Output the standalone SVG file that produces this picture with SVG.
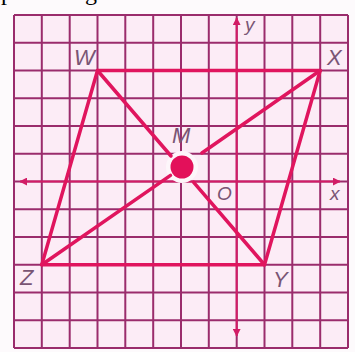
<svg xmlns="http://www.w3.org/2000/svg" width="355" height="352" viewBox="0 0 355 352">
<defs>
<style>
.grid line{stroke:#9a2c6c;stroke-width:2}
.axis{stroke:#d21c66;stroke-width:2}
.edge{stroke:#e0155e;stroke-width:3.5;stroke-linecap:round}
.lbl{font-family:"Liberation Sans",Arial,sans-serif;font-style:italic;font-size:22px;fill:#7a5574}
.sm{font-size:19px}
</style>
<marker id="ah" viewBox="0 0 10 10" refX="9" refY="5" markerWidth="4" markerHeight="4" orient="auto" markerUnits="strokeWidth">
<path d="M0,0 L10,5 L0,10 z" fill="#d21c66"/>
</marker>
</defs>
<rect x="0" y="0" width="355" height="352" fill="#fdfafc"/>
<rect x="14" y="15" width="334" height="333" fill="#fcecf6"/>
<text x="1" y="0" font-family="Liberation Serif,'Times New Roman',serif" font-size="24" fill="#000">parallelogram</text>
<g id="grid" class="grid">
<line x1="14" y1="15" x2="14" y2="348"/>
<line x1="41.8" y1="15" x2="41.8" y2="348"/>
<line x1="69.7" y1="15" x2="69.7" y2="348"/>
<line x1="97.5" y1="15" x2="97.5" y2="348"/>
<line x1="125.3" y1="15" x2="125.3" y2="348"/>
<line x1="153.2" y1="15" x2="153.2" y2="348"/>
<line x1="181" y1="15" x2="181" y2="348"/>
<line x1="208.8" y1="15" x2="208.8" y2="348"/>
<line x1="236.7" y1="15" x2="236.7" y2="348"/>
<line x1="264.5" y1="15" x2="264.5" y2="348"/>
<line x1="292.3" y1="15" x2="292.3" y2="348"/>
<line x1="320.2" y1="15" x2="320.2" y2="348"/>
<line x1="348" y1="15" x2="348" y2="348"/>
<line x1="14" y1="15" x2="348" y2="15"/>
<line x1="14" y1="42.75" x2="348" y2="42.75"/>
<line x1="14" y1="70.5" x2="348" y2="70.5"/>
<line x1="14" y1="98.25" x2="348" y2="98.25"/>
<line x1="14" y1="126" x2="348" y2="126"/>
<line x1="14" y1="153.75" x2="348" y2="153.75"/>
<line x1="14" y1="181.5" x2="348" y2="181.5"/>
<line x1="14" y1="209.25" x2="348" y2="209.25"/>
<line x1="14" y1="237" x2="348" y2="237"/>
<line x1="14" y1="264.75" x2="348" y2="264.75"/>
<line x1="14" y1="292.5" x2="348" y2="292.5"/>
<line x1="14" y1="320.25" x2="348" y2="320.25"/>
<line x1="14" y1="348" x2="348" y2="348"/>
</g>
<g id="axes">
<line class="axis" x1="181" y1="181.5" x2="20" y2="181.5" marker-end="url(#ah)"/>
<line class="axis" x1="181" y1="181.5" x2="340" y2="181.5" marker-end="url(#ah)"/>
<line class="axis" x1="236.7" y1="181.5" x2="236.7" y2="18" marker-end="url(#ah)"/>
<line class="axis" x1="236.7" y1="181.5" x2="236.7" y2="336" marker-end="url(#ah)"/>
</g>
<circle cx="182" cy="167" r="16" fill="#fdf6fa"/>
<g id="connectors">
<line class="edge" x1="97.5" y1="70.5" x2="320.2" y2="70.5"/>
<line class="edge" x1="320.2" y1="70.5" x2="264.5" y2="264.75"/>
<line class="edge" x1="264.5" y1="264.75" x2="41.8" y2="264.75"/>
<line class="edge" x1="41.8" y1="264.75" x2="97.5" y2="70.5"/>
<line class="edge" x1="97.5" y1="70.5" x2="171" y2="156"/>
<line class="edge" x1="193.5" y1="182.2" x2="264.5" y2="264.75"/>
<line class="edge" x1="320.2" y1="70.5" x2="201.9" y2="153"/>
<line class="edge" x1="170.5" y1="175.4" x2="41.8" y2="264.75"/>
</g>
<g id="M">
<circle cx="182" cy="167" r="11.5" fill="#e3105a"/>
<text class="lbl" x="172" y="143">M</text>
</g>
<g id="W"><text class="lbl" x="74" y="65">W</text></g>
<g id="X"><text class="lbl" x="327" y="65">X</text></g>
<g id="Y"><text class="lbl" x="273" y="287">Y</text></g>
<g id="Z"><text class="lbl" x="20" y="285">Z</text></g>
<g id="O"><text class="lbl sm" x="217" y="200">O</text></g>
<text class="lbl sm" x="330" y="200">x</text>
<text class="lbl sm" x="245" y="31">y</text>
</svg>
